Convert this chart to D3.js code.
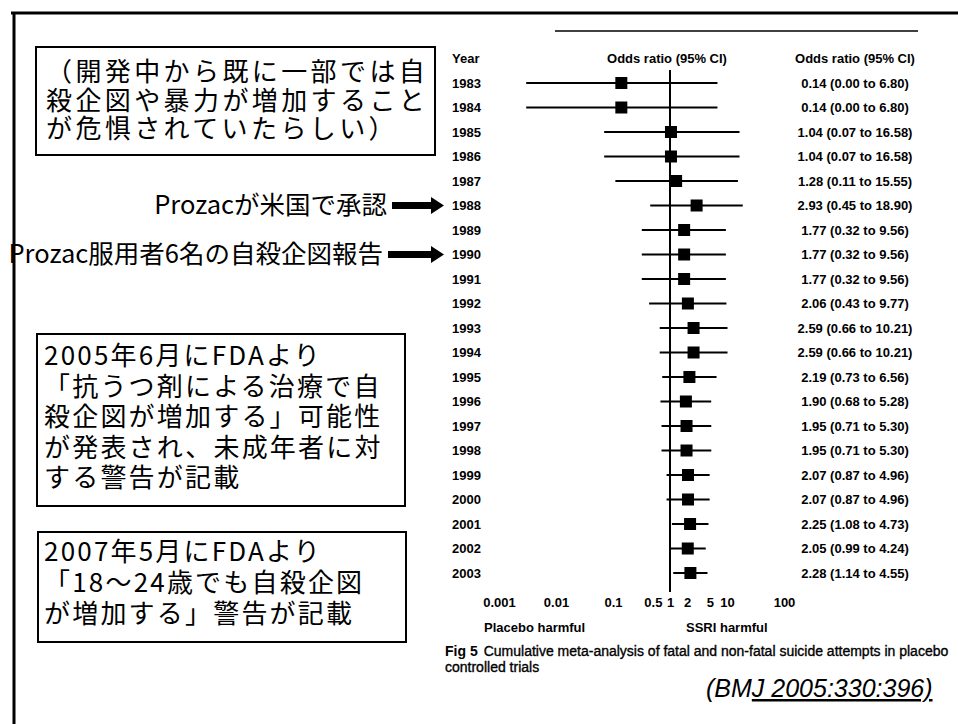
<!DOCTYPE html>
<html>
<head>
<meta charset="utf-8">
<script src="https://cdn.jsdelivr.net/npm/d3@7"></script>
<style>
  body { margin: 0; background: #fff; }
  svg { display: block; }
</style>
</head>
<body>
<div id="chart"></div>
<script>
// forest plot data (cumulative meta-analysis)
const years = ["1983", "1984", "1985", "1986", "1987", "1988", "1989", "1990", "1991", "1992", "1993",
  "1994", "1995", "1996", "1997", "1998", "1999", "2000", "2001", "2002", "2003"];
const oddsRatio = [0.14, 0.14, 1.04, 1.04, 1.28, 2.93, 1.77, 1.77, 1.77, 2.06, 2.59,
  2.59, 2.19, 1.90, 1.95, 1.95, 2.07, 2.07, 2.25, 2.05, 2.28];
// 0.00 lower bounds are drawn where the line ends in the picture (~0.003)
const ciLower = [0.003, 0.003, 0.07, 0.07, 0.11, 0.45, 0.32, 0.32, 0.32, 0.43, 0.66,
  0.66, 0.73, 0.68, 0.71, 0.71, 0.87, 0.87, 1.08, 0.99, 1.14];
const ciUpper = [6.80, 6.80, 16.58, 16.58, 15.55, 18.90, 9.56, 9.56, 9.56, 9.77, 10.21,
  10.21, 6.56, 5.28, 5.30, 5.30, 4.96, 4.96, 4.73, 4.24, 4.55];
const tickValues = [0.001, 0.01, 0.1, 0.5, 1, 2, 5, 10, 100];

// annotations
const box1Lines = ["（開発中から既に一部では自", "殺企図や暴力が増加すること", "が危惧されていたらしい）"];
const box2Lines = ["2005年6月にFDAより", "「抗うつ剤による治療で自", "殺企図が増加する」可能性", "が発表され、未成年者に対", "する警告が記載"];
const box3Lines = ["2007年5月にFDAより", "「18～24歳でも自殺企図", "が増加する」警告が記載"];
const arrowNotes = [
  { text: "Prozacが米国で承認", year: "1988", from: 392 },
  { text: "Prozac服用者6名の自殺企図報告", year: "1990", from: 388 }
];

const width = 958;
const height = 724;
const chartFont = "'Liberation Sans', Arial, sans-serif";
const jpFont = "'Noto Sans CJK JP', 'Noto Sans', sans-serif";

const svg = d3
  .select("#chart")
  .append("svg")
  .attr("width", width)
  .attr("height", height);

svg.append("rect").attr("width", width).attr("height", height).attr("fill", "#fff");

// outer frame (top and left)
svg.append("line").attr("x1", 11).attr("x2", width).attr("y1", 13).attr("y2", 13)
  .attr("stroke", "#000").attr("stroke-width", 3);
svg.append("line").attr("x1", 14).attr("x2", 14).attr("y1", 12).attr("y2", height)
  .attr("stroke", "#000").attr("stroke-width", 3);
// figure top rule
svg.append("line").attr("x1", 555).attr("x2", 918).attr("y1", 31).attr("y2", 31)
  .attr("stroke", "#000").attr("stroke-width", 1.5);

const x = d3.scaleLog().domain([0.001, 100]).range([499, 784]);
const y = d3.scalePoint().domain(years).range([83, 573]);

const rows = years.map((yr, i) => ({
  year: yr,
  or: oddsRatio[i],
  lo: ciLower[i],
  hi: ciUpper[i]
}));

const plot = svg.append("g").attr("font-family", chartFont).attr("font-weight", "bold").attr("font-size", 13);

// headers
plot.append("text").attr("x", 452).attr("y", 63).text("Year");
plot.append("text").attr("x", x(1) - 3).attr("y", 63).attr("text-anchor", "middle").text("Odds ratio (95% CI)");
plot.append("text").attr("x", 855).attr("y", 63).attr("text-anchor", "middle").text("Odds ratio (95% CI)");

// line of no effect
plot.append("line")
  .attr("x1", x(1)).attr("x2", x(1))
  .attr("y1", 70).attr("y2", 592)
  .attr("stroke", "#000").attr("stroke-width", 2);

const row = plot.selectAll(".row").data(rows).enter().append("g").attr("class", "row");

row.append("text")
  .attr("x", 452)
  .attr("y", d => y(d.year))
  .attr("dy", "0.36em")
  .text(d => d.year);

row.append("line")
  .attr("x1", d => x(d.lo))
  .attr("x2", d => x(d.hi))
  .attr("y1", d => y(d.year))
  .attr("y2", d => y(d.year))
  .attr("stroke", "#000")
  .attr("stroke-width", 2);

row.append("rect")
  .attr("x", d => x(d.or) - 6)
  .attr("y", d => y(d.year) - 6)
  .attr("width", 12)
  .attr("height", 12)
  .attr("fill", "#000");

row.append("text")
  .attr("x", 855)
  .attr("y", d => y(d.year))
  .attr("dy", "0.36em")
  .attr("text-anchor", "middle")
  .text(d => `${d.or.toFixed(2)} (${d.lo.toFixed(2)} to ${d.hi.toFixed(2)})`);

// x axis (labels only)
const xAxis = d3.axisBottom(x).tickValues(tickValues).tickFormat(d3.format("~g")).tickSize(0).tickPadding(3);
const axisG = svg.append("g").attr("transform", "translate(0, 595)").call(xAxis);
axisG.select(".domain").remove();
axisG.selectAll("text")
  .attr("font-family", chartFont)
  .attr("font-weight", "bold")
  .attr("font-size", 13)
  .attr("fill", "#000");

plot.append("text").attr("x", 484).attr("y", 632).text("Placebo harmful");
plot.append("text").attr("x", 686).attr("y", 632).text("SSRI harmful");

// caption
const cap = svg.append("g").attr("font-family", chartFont).attr("font-size", 14).attr("font-weight", "bold");
const capLine = cap.append("text").attr("x", 445).attr("y", 656);
capLine.append("tspan").text("Fig 5");
capLine.append("tspan").attr("dx", 6).attr("font-weight", "normal").attr("stroke", "#000").attr("stroke-width", 0.35)
  .text("Cumulative meta-analysis of fatal and non-fatal suicide attempts in placebo");
cap.append("text").attr("x", 445).attr("y", 672).attr("font-weight", "normal").attr("stroke", "#000").attr("stroke-width", 0.35)
  .text("controlled trials");

// citation
const cite = svg.append("text")
  .attr("x", 706).attr("y", 697)
  .attr("font-family", chartFont)
  .attr("font-style", "italic")
  .attr("font-size", 25);
cite.append("tspan").text("(BM");
cite.append("tspan").attr("text-decoration", "underline").text("J 2005:330:396)");

// annotation boxes
function textBox(lines, bx, by, bw, bh, tx, ty, lh, spacing) {
  const g = svg.append("g");
  g.append("rect")
    .attr("x", bx).attr("y", by).attr("width", bw).attr("height", bh)
    .attr("fill", "none").attr("stroke", "#000").attr("stroke-width", 2);
  g.selectAll("text").data(lines).enter().append("text")
    .attr("x", tx)
    .attr("y", (d, i) => ty + i * lh)
    .attr("dy", "0.35em")
    .attr("font-family", jpFont)
    .attr("font-size", 26)
    .attr("letter-spacing", spacing)
    .attr("fill", "#000")
    .text(d => d);
}

textBox(box1Lines, 36, 47, 399, 108, 46, 72, 28.5, 3.4);
textBox(box2Lines, 37, 334, 368, 172, 44, 356, 30.5, 2.2);
textBox(box3Lines, 38, 532, 368, 110, 44, 552, 31, 2.2);

// arrow notes
const arrowG = svg.append("g");
arrowNotes.forEach(n => {
  const ay = y(n.year);
  arrowG.append("text")
    .attr("x", n.from - 5)
    .attr("y", ay)
    .attr("dy", "0.35em")
    .attr("text-anchor", "end")
    .attr("font-family", jpFont)
    .attr("font-size", 25.5)
    .text(n.text);
  const tip = 444;
  const path = d3.path();
  path.moveTo(n.from, ay - 3.5);
  path.lineTo(tip - 13, ay - 3.5);
  path.lineTo(tip - 13, ay - 8.5);
  path.lineTo(tip, ay);
  path.lineTo(tip - 13, ay + 8.5);
  path.lineTo(tip - 13, ay + 3.5);
  path.lineTo(n.from, ay + 3.5);
  path.closePath();
  arrowG.append("path").attr("d", path.toString()).attr("fill", "#000");
});
</script>
</body>
</html>
